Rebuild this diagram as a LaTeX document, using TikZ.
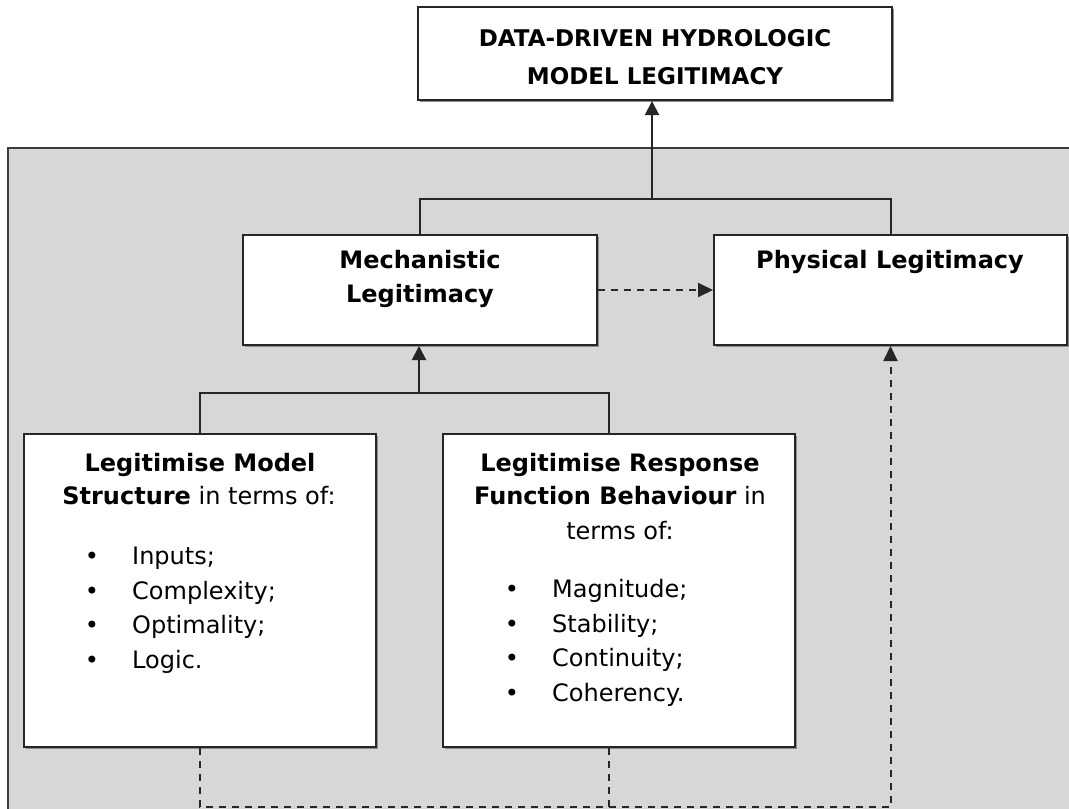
\documentclass[tikz,border=0pt]{standalone}
\usepackage{fontspec}
\setmainfont{DejaVu Sans}
\usetikzlibrary{arrows.meta,shadows,calc}
\definecolor{panelgray}{HTML}{D7D7D7}
\definecolor{linegray}{HTML}{262626}
\definecolor{panelline}{HTML}{3C3C3C}
\begin{document}
\begin{tikzpicture}[x=1pt,y=-1pt,
  font=\fontsize{24}{30}\selectfont,
  box/.style={draw=linegray, line width=2pt, fill=white, inner sep=0pt,
    drop shadow={shadow xshift=2pt, shadow yshift=-2pt, fill=black!45, opacity=1}},
  txt/.style={inner sep=0pt, anchor=base},
  txtw/.style={inner sep=0pt, anchor=base west},
  conn/.style={draw=linegray, line width=2pt},
  arr/.style={conn, -{Triangle[length=14pt,width=14pt]}},
  dconn/.style={conn, dash pattern=on 7pt off 6pt},
  darr/.style={dconn, -{Triangle[length=15pt,width=14pt]}}]
\useasboundingbox (0,0) rectangle (1069,809);
% panel
\draw[fill=panelgray, draw=panelline, line width=2pt] (8,148) rectangle (1080,820);
% boxes
\node[box, minimum width=474pt, minimum height=93pt] (top) at (655,53.5) {};
\node[box, minimum width=354pt, minimum height=110pt] (mech) at (420,290) {};
\node[box, minimum width=353pt, minimum height=110pt] (phys) at (890.5,290) {};
\node[box, minimum width=352pt, minimum height=313pt] (struct) at (200,590.5) {};
\node[box, minimum width=352pt, minimum height=313pt] (resp) at (619,590.5) {};
% top text
\node[txt, font=\fontsize{23}{30}\selectfont\bfseries] (t1) at (655,46) {DATA-DRIVEN HYDROLOGIC};
\node[txt, font=\fontsize{23}{30}\selectfont\bfseries] (t2) at (655,84) {MODEL LEGITIMACY};
% mech / phys text
\node[txt, font=\fontsize{24}{30}\selectfont\bfseries] (m1) at (420,268) {Mechanistic};
\node[txt, font=\fontsize{24}{30}\selectfont\bfseries] (m2) at (420,302) {Legitimacy};
\node[txt, font=\fontsize{24}{30}\selectfont\bfseries] (p1) at (890,268) {Physical Legitimacy};
% structure box text
\node[txt] (s1) at (200,471) {\textbf{Legitimise Model}};
\node[txt] (s2) at (199,504) {\textbf{Structure} in terms of:};
\node[txt] (sb1) at (92,564) {•};
\node[txt] (sb2) at (92,599) {•};
\node[txt] (sb3) at (92,633) {•};
\node[txt] (sb4) at (92,668) {•};
\node[txtw] (si1) at (132,564) {Inputs;};
\node[txtw] (si2) at (132,599) {Complexity;};
\node[txtw] (si3) at (132,633) {Optimality;};
\node[txtw] (si4) at (132,668) {Logic.};
% response box text
\node[txt] (r1) at (620,471) {\textbf{Legitimise Response}};
\node[txt] (r2) at (620,504) {\textbf{Function Behaviour} in};
\node[txt] (r3) at (620,539) {terms of:};
\node[txt] (rb1) at (512,597) {•};
\node[txt] (rb2) at (512,632) {•};
\node[txt] (rb3) at (512,666) {•};
\node[txt] (rb4) at (512,701) {•};
\node[txtw] (ri1) at (552,597) {Magnitude;};
\node[txtw] (ri2) at (552,632) {Stability;};
\node[txtw] (ri3) at (552,666) {Continuity;};
\node[txtw] (ri4) at (552,701) {Coherency.};
% top connector
\coordinate (j1) at (652,199);
\draw[conn] (mech.north) |- (j1) -| (phys.north);
\draw[arr] (j1) -- (top.south -| j1);
% mech -> phys dashed
\draw[darr] (mech.east) -- (phys.west);
% lower connector
\coordinate (j2) at (419,393);
\coordinate (rtop) at ($(resp.north)+(-10,0)$);
\draw[conn] (struct.north) |- (j2) -| (rtop);
\draw[arr] (j2) -- (mech.south -| j2);
% bottom dashed
\coordinate (j3) at (609,807);
\coordinate (rbot) at ($(resp.south)+(-10,0)$);
\draw[dconn] (rbot) -- (j3);
\draw[darr] (struct.south) |- (j3) -| (phys.south);
\end{tikzpicture}
\end{document}
